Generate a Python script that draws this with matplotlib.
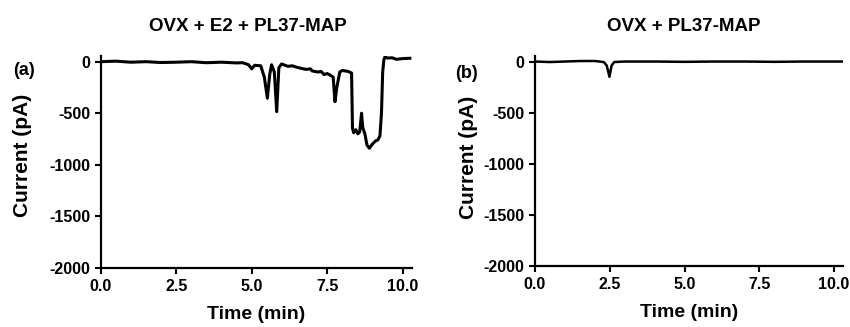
import matplotlib
matplotlib.use("Agg")
import matplotlib.pyplot as plt

# ── Data ─────────────────────────────────────────────────────────────
time_a = [0.0, 0.5, 1.0, 1.5, 2.0, 2.5, 3.0, 3.5, 4.0, 4.5, 4.7, 4.9, 5.0,
          5.1, 5.3, 5.42, 5.52, 5.6, 5.66, 5.75, 5.83, 5.9, 5.99, 6.2, 6.35,
          6.5, 6.8, 6.95, 7.0, 7.2, 7.3, 7.4, 7.5, 7.6, 7.7, 7.76, 7.82,
          7.92, 8.0, 8.1, 8.2, 8.31, 8.34, 8.38, 8.45, 8.52, 8.58, 8.64,
          8.68, 8.75, 8.82, 8.9, 9.0, 9.1, 9.18, 9.25, 9.3, 9.34, 9.38,
          9.42, 9.5, 9.65, 9.8, 10.0, 10.24]
current_a = [0, 5, -5, 0, -8, -5, 0, -10, -5, -12, -10, -30, -70,
             -35, -40, -150, -355, -120, -30, -100, -485, -60, -22, -45, -40,
             -55, -75, -70, -90, -100, -95, -125, -115, -130, -150, -388, -250,
             -100, -85, -90, -95, -110, -645, -690, -660, -700, -680, -500,
             -640, -700, -810, -840, -800, -770, -760, -720, -500, -100, 20,
             48, 35, 38, 23, 30, 33]

time_b = [0.0, 0.5, 1.0, 1.5, 2.0, 2.3, 2.4, 2.49, 2.56, 2.65, 3.0, 4.0,
          5.0, 6.0, 7.0, 8.0, 9.0, 10.0, 10.3]
current_b = [0, -5, 0, 5, 5, -5, -40, -150, -40, -5, 0, 0,
             -3, 0, 0, -3, 0, 0, 0]

titles = ["OVX + E2 + PL37-MAP", "OVX + PL37-MAP"]
panel_tags = ["(a)", "(b)"]
xticks = [0.0, 2.5, 5.0, 7.5, 10.0]
xtick_labels = ["0.0", "2.5", "5.0", "7.5", "10.0"]
yticks = [0, -500, -1000, -1500, -2000]
ytick_labels = ["0", "-500", "-1000", "-1500", "-2000"]

plt.rcParams["font.family"] = ["Liberation Sans", "DejaVu Sans"]
plt.rcParams["font.weight"] = "bold"

fig = plt.figure(figsize=(8.5, 3.27), dpi=100)
ax_a = fig.add_axes([0.1185, 0.1813, 0.3658, 0.6474])
ax_b = fig.add_axes([0.6294, 0.1875, 0.3624, 0.6415])

series = [(time_a, current_a), (time_b, current_b)]
line_w = [2.2, 1.8]
title_x = [0.292, 0.804]
tag_pos = [(0.028, 0.783), (0.549, 0.775)]
ylab_pos = [(-0.221, 0.532), (-0.185, 0.518)]

for i, ax in enumerate([ax_a, ax_b]):
    t, cur = series[i]
    ax.plot(t, cur, color="black", lw=line_w[i])
    ax.set_xlim(0, 10.3)
    ax.set_ylim(-2000, 55)
    ax.spines["top"].set_visible(False)
    ax.spines["right"].set_visible(False)
    ax.spines["left"].set_linewidth(1.6)
    ax.spines["bottom"].set_linewidth(1.6)
    ax.set_xticks(xticks)
    ax.set_xticklabels(xtick_labels, fontsize=11.5, fontweight="bold")
    ax.set_yticks(yticks)
    ax.set_yticklabels(ytick_labels, fontsize=11.5, fontweight="bold")
    ax.tick_params(axis="x", direction="out", length=4, width=1.5, pad=4.3)
    ax.tick_params(axis="y", direction="out", length=4, width=1.5, pad=3.7)
    ax.set_xlabel("Time (min)", fontsize=14, fontweight="bold")
    ax.xaxis.set_label_coords(0.5, -0.183)
    ax.set_ylabel("Current (pA)", fontsize=15, fontweight="bold")
    ax.yaxis.set_label_coords(*ylab_pos[i])
    fig.text(title_x[i], 0.920, titles[i], fontsize=13.5, fontweight="bold",
             ha="center", va="center")
    fig.text(tag_pos[i][0], tag_pos[i][1], panel_tags[i], fontsize=13,
             fontweight="bold", ha="center", va="center")

fig.savefig("out.png", dpi=100, facecolor="white")
